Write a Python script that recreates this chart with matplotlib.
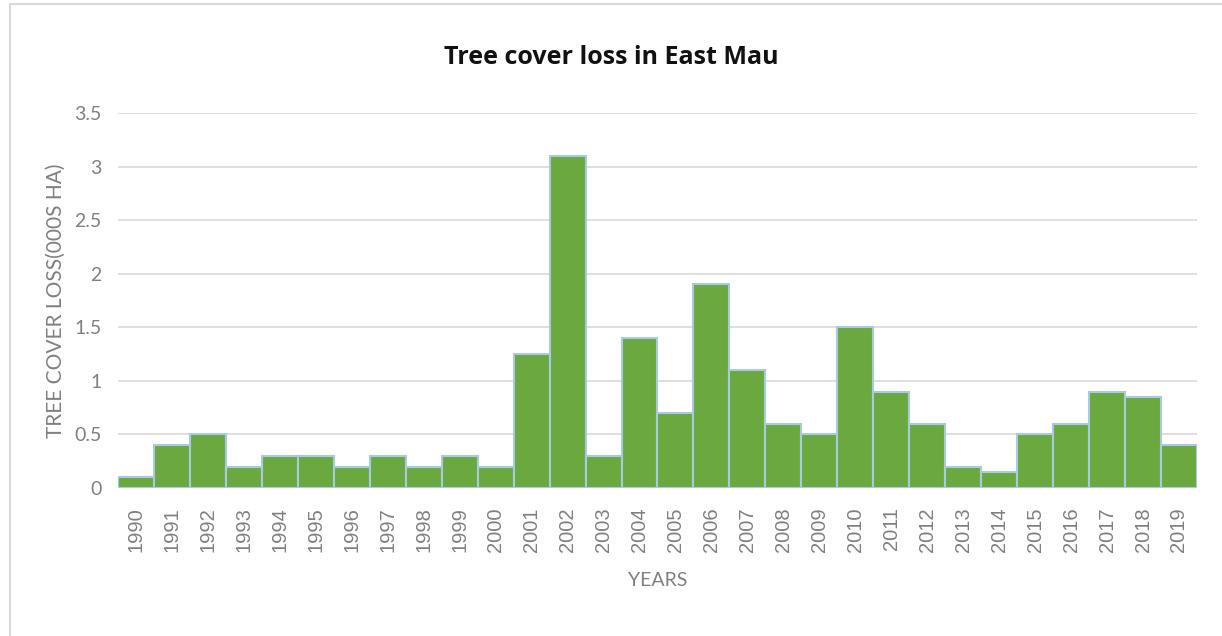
import numpy as np
import matplotlib.pyplot as plt
from matplotlib.patches import Rectangle

years = [str(y) for y in range(1990, 2020)]
loss = [0.1, 0.4, 0.5, 0.2, 0.3, 0.3, 0.2, 0.3, 0.2, 0.3,
        0.2, 1.25, 3.1, 0.3, 1.4, 0.7, 1.9, 1.1, 0.6, 0.5,
        1.5, 0.9, 0.6, 0.2, 0.15, 0.5, 0.6, 0.9, 0.85, 0.4]
yticks = [0, 0.5, 1, 1.5, 2, 2.5, 3, 3.5]
ytick_labels = ["0", "0.5", "1", "1.5", "2", "2.5", "3", "3.5"]

fig = plt.figure(figsize=(12.22, 6.36), dpi=100)
ax = fig.add_axes([0.0966, 0.2327, 0.8829, 0.5896])

x = np.arange(len(years))
ax.bar(x, loss, width=1.0, color="#6aa93f", edgecolor="#a9cbe0", linewidth=1.5, zorder=3)

ax.set_xlim(-0.5, len(years) - 0.5)
ax.set_ylim(0, 3.5)
ax.set_yticks(yticks)
ax.set_yticklabels(ytick_labels, family="Lato", fontsize=14, color="#808080")
ax.set_xticks(x)
ax.set_xticklabels(years, rotation=90, family="Liberation Sans", fontsize=14.5, color="#808080")
ax.tick_params(axis="y", length=0, pad=12)
ax.tick_params(axis="x", length=0, pad=14)
ax.grid(axis="y", color="#d9d9d9", linewidth=1.2, zorder=0)
for s in ax.spines.values():
    s.set_visible(False)

ax.set_ylabel("TREE COVER LOSS(000S HA)", family="Lato", fontsize=15, color="#808080", labelpad=6)
ax.set_xlabel("YEARS", family="Lato", fontsize=14, color="#808080", labelpad=14)
fig.text(0.5, 0.909, "Tree cover loss in East Mau", ha="center", va="center",
         family="Open Sans", fontweight="bold", fontsize=18, color="#111111")

# light frame round the chart area
fig.patches.append(Rectangle((0.008, -0.05), 1.1, 1.044, transform=fig.transFigure,
                             fill=False, edgecolor="#d9d9d9", linewidth=1.5))

fig.savefig("out.png", dpi=100)
